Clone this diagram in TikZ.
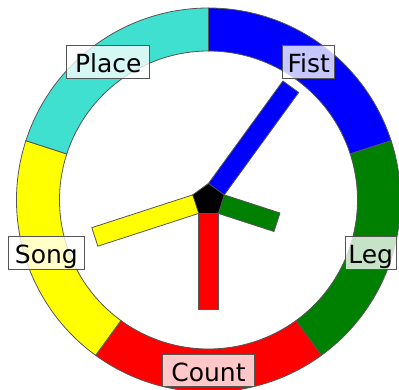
\documentclass[tikz,border=0pt]{standalone}
\usepackage{fontspec}
\setmainfont{DejaVu Sans}
\definecolor{edgegray}{RGB}{85,85,85}
\definecolor{cTurq}{RGB}{64,224,208}
\definecolor{cBlue}{RGB}{0,0,255}
\definecolor{cGreen}{RGB}{0,128,0}
\definecolor{cRed}{RGB}{255,0,0}
\definecolor{cYellow}{RGB}{255,255,0}
\begin{document}
\begin{tikzpicture}[x=1pt,y=1pt,
  seg/.style={draw=edgegray,line width=0.8pt},
  handbar/.style={draw=edgegray,line width=0.8pt},
  lbl/.style={draw=edgegray,line width=0.8pt,fill=white,fill opacity=0.78,text opacity=1,
    inner sep=0pt,minimum height=32.5pt,text height=24pt,text depth=3pt,
    font=\fontsize{25}{30}\selectfont}]
\useasboundingbox (-208.5,-189) rectangle (190.5,200);
\clip (-208.5,-189) rectangle (190.5,200);
\def\Ro{192}
\def\Ri{149}
% ring segments
\foreach \a/\b/\c in {90/18/cBlue, 18/-54/cGreen, -54/-126/cRed, -126/-198/cYellow, 162/90/cTurq}{
  \draw[seg,fill=\c] (\a:\Ro) arc[start angle=\a,end angle=\b,radius=\Ro]
     -- (\b:\Ri) arc[start angle=\b,end angle=\a,radius=\Ri] -- cycle;
}
% hands
\foreach \ang/\len/\c in {54/140/cBlue, -18/72/cGreen, -90/109/cRed, 198/119.5/cYellow}{
  \draw[handbar,fill=\c,rotate=\ang] (0,-9.75) rectangle (\len,9.75);
}
% hub
\draw[line width=0.8pt,draw=edgegray,fill=black]
  (90:16.6) -- (162:16.6) -- (234:16.6) -- (306:16.6) -- (18:16.6) -- cycle;
% labels
\node[lbl,minimum width=51.7pt] (fist) at (54:170.5) {Fist};
\node[lbl,minimum width=50.7pt] (leg) at (-18:170.5) {Leg};
\node[lbl,minimum width=92.7pt] (count) at (-90:170.5) {Count};
\node[lbl,minimum width=76pt] (song) at (198:170.5) {Song};
\node[lbl,minimum width=83pt] (place) at (126:170.5) {Place};
\end{tikzpicture}
\end{document}
